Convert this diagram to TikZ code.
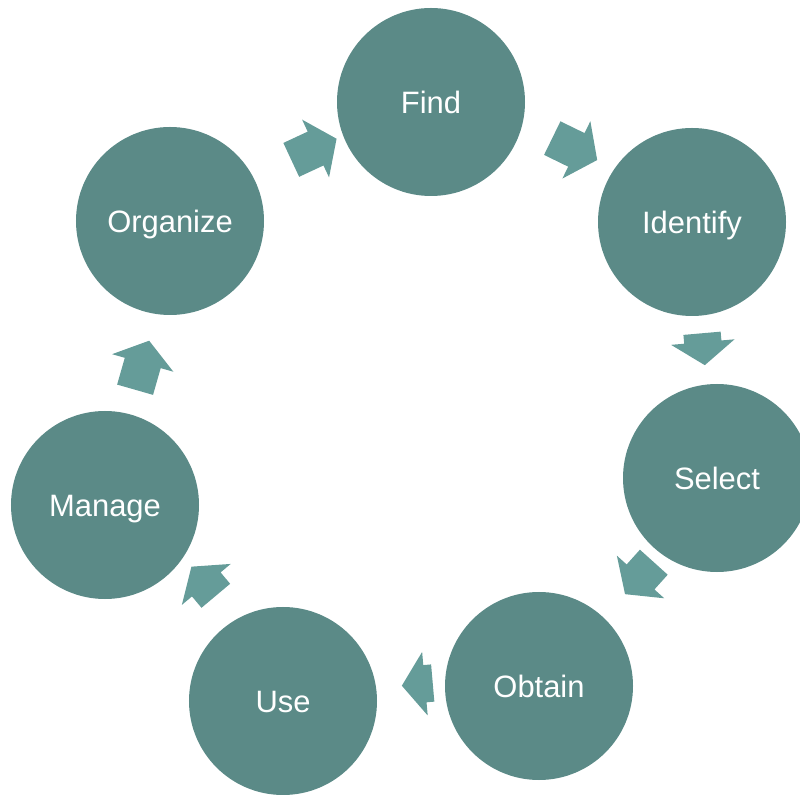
\documentclass[tikz,border=0pt]{standalone}
\usepackage{fontspec}
\setmainfont{Liberation Sans}
\usetikzlibrary{shapes.arrows}
\definecolor{circ}{RGB}{91,138,135}
\definecolor{arr}{RGB}{101,156,153}

\begin{document}
\begin{tikzpicture}[x=0.25mm,y=-0.25mm]
 \tikzstyle{c} = [circle,fill=circ,minimum size=47mm,inner sep=0pt,text=white,
   font=\fontsize{22}{26}\selectfont,text height=15.8pt,text depth=0pt]
 \tikzstyle{a} = [single arrow,fill=arr,inner xsep=0pt,inner ysep=4.6mm,anchor=tail,
   minimum width=15.75mm,single arrow head extend=3.3mm,single arrow tip angle=108]
 \clip (0,0) rectangle (800,795);
 \path
 (431,102) node[c] (Find) {Find}
 (Find) ++(261,120) node[c] (Identify) {Identify}
 (Identify) ++(25,256) node[c] (Select) {Select}
 (Select) ++(-178,208) node[c] (Obtain) {Obtain}
 (Obtain) ++(-256,15) node[c] (Use) {Use}
 (Use) ++(-178,-196) node[c] (Manage) {Manage}
 (Manage) ++(65,-284) node[c] (Organize) {Organize}
 ;
 % block arrows round the cycle
 \path
 (291,160) node[a,rotate=25,minimum height=12.5mm] (OrgFind) {}
 (552,138) node[a,rotate=-26,minimum height=12.5mm] (FindIdent) {}
 (702,333) node[a,rotate=-85,minimum height=8mm] (IdentSel) {}
 (654,562) node[a,rotate=-132,minimum height=10.75mm] (SelObt) {}
 (433,683) node[a,rotate=-175,minimum height=7.75mm] (ObtUse) {}
 (216,596) node[a,rotate=130,minimum height=9.5mm] (UseMan) {}
 (135,390) node[a,rotate=74,minimum height=12.75mm] (ManOrg) {}
 ;
\end{tikzpicture}
\end{document}
